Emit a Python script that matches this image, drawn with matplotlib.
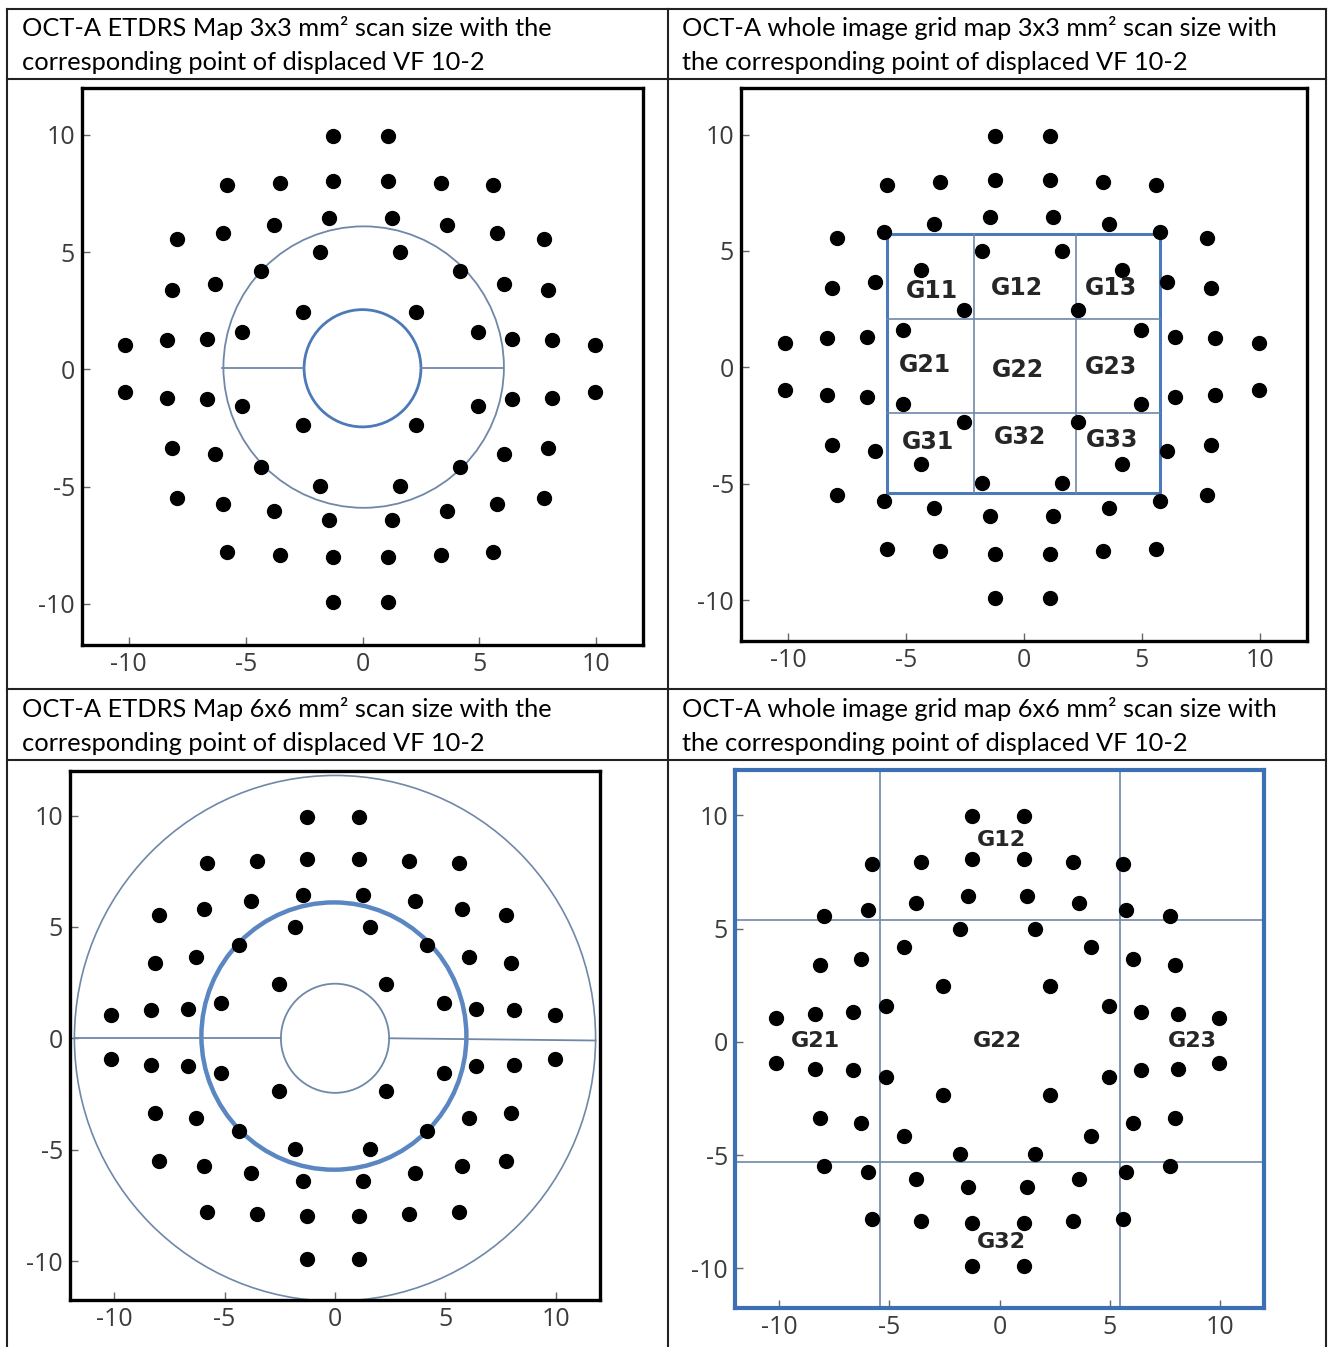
import matplotlib
matplotlib.use("Agg")
import matplotlib.pyplot as plt
from matplotlib.patches import Circle, Rectangle
from matplotlib.lines import Line2D

plt.rcParams["axes.unicode_minus"] = False

# displaced VF 10-2 test points (degrees)
vf_x = [-1.25, 1.1,
        -5.8, -3.55, -1.25, 1.1, 3.35, 5.6,
        -7.95, -5.95, -3.8, -1.45, 1.25, 3.6, 5.75, 7.75,
        -1.8, 1.6,
        -4.35, 4.15,
        -8.15, -6.3, 6.05, 7.95,
        -2.55, 2.3,
        -5.15, 4.95,
        -10.15, -8.35, -6.65, 6.4, 8.1, 9.95,
        -10.15, -8.35, -6.65, 6.4, 8.1, 9.95,
        -5.15, 4.95,
        -2.55, 2.3,
        -8.15, -6.3, 6.05, 7.95,
        -4.35, 4.15,
        -1.8, 1.6,
        -7.95, -5.95, -3.8, -1.45, 1.25, 3.6, 5.75, 7.75,
        -5.8, -3.55, -1.25, 1.1, 3.35, 5.6,
        -1.25, 1.1]
vf_y = [9.95, 9.95,
        7.85, 7.95, 8.05, 8.05, 7.95, 7.85,
        5.55, 5.8, 6.15, 6.45, 6.45, 6.15, 5.8, 5.55,
        5.0, 5.0,
        4.2, 4.2,
        3.4, 3.65, 3.65, 3.4,
        2.45, 2.45,
        1.6, 1.6,
        1.05, 1.25, 1.3, 1.3, 1.25, 1.05,
        -0.95, -1.2, -1.25, -1.25, -1.2, -0.95,
        -1.55, -1.55,
        -2.35, -2.35,
        -3.35, -3.6, -3.6, -3.35,
        -4.15, -4.15,
        -4.95, -4.95,
        -5.5, -5.75, -6.05, -6.4, -6.4, -6.05, -5.75, -5.5,
        -7.8, -7.9, -8.0, -8.0, -7.9, -7.8,
        -9.9, -9.9]

titles = [["OCT-A ETDRS Map 3x3 mm\u00b2 scan size with the",
           "corresponding point of displaced VF 10-2"],
          ["OCT-A whole image grid map 3x3 mm\u00b2 scan size with",
           "the corresponding point of displaced VF 10-2"],
          ["OCT-A ETDRS Map 6x6 mm\u00b2 scan size with the",
           "corresponding point of displaced VF 10-2"],
          ["OCT-A whole image grid map 6x6 mm\u00b2 scan size with",
           "the corresponding point of displaced VF 10-2"]]

ticks = [-10, -5, 0, 5, 10]

# ETDRS radii (deg)
etdrs3_r = [2.5, 6.0]
etdrs6_r = [2.45, 6.0, 11.8]

# 3x3 grid edges
grid3_x = [-5.8, -2.1, 2.2, 5.75]
grid3_y = [-5.4, -1.95, 2.1, 5.75]
grid3_names = ["G11", "G12", "G13", "G21", "G22", "G23", "G31", "G32", "G33"]
grid3_lx = [-3.9, -0.3, 3.7, -4.2, -0.25, 3.7, -4.05, -0.15, 3.75]
grid3_ly = [3.3, 3.4, 3.4, 0.1, -0.1, 0.0, -3.2, -3.0, -3.1]

# 6x6 grid lines
grid6_x = [-5.4, 5.45]
grid6_y = [-5.3, 5.4]
grid6_names = ["G12", "G21", "G22", "G23", "G32"]
grid6_lx = [0.1, -8.35, -0.1, 8.75, 0.1]
grid6_ly = [8.9, 0.05, 0.05, 0.05, -8.85]

W, H = 1333, 1347
BLUE = "#4a7ab8"
GREYBLUE = "#7088a8"

fig = plt.figure(figsize=(W / 100, H / 100), dpi=100)


def box(l, t, r, b):
    return [l / W, 1 - b / H, (r - l) / W, (b - t) / H]


def style(ax, spine_color="black", spine_w=2.4):
    ax.set_xlim(-12, 12)
    ax.set_ylim(-11.75, 12)
    ax.set_xticks(ticks)
    ax.set_yticks(ticks)
    ax.tick_params(direction="in", length=6, width=1, color="#666666",
                   labelsize=18, labelcolor="#3c3c3c", pad=5,
                   top=False, right=False)
    for lab in ax.get_xticklabels() + ax.get_yticklabels():
        lab.set_family("Open Sans")
    for s in ax.spines.values():
        s.set_color(spine_color)
        s.set_linewidth(spine_w)


def dots(ax):
    ax.plot(vf_x, vf_y, "o", color="black", markersize=10, zorder=5)


# panel 1: ETDRS 3x3
ax1 = fig.add_axes(box(82, 88, 643, 645))
style(ax1)
ax1.add_patch(Circle((0, 0.05), etdrs3_r[0], fill=False, ec=BLUE, lw=2.0))
ax1.add_patch(Circle((0.05, 0.1), etdrs3_r[1], fill=False, ec=GREYBLUE, lw=1.3))
ax1.plot([-etdrs3_r[1], -etdrs3_r[0]], [0.05, 0.05], color=GREYBLUE, lw=1.3)
ax1.plot([etdrs3_r[0], etdrs3_r[1]], [0.05, 0.05], color=GREYBLUE, lw=1.3)
dots(ax1)

# panel 2: grid 3x3
ax2 = fig.add_axes(box(741, 88, 1307, 641))
style(ax2)
for gx in grid3_x[1:-1]:
    ax2.plot([gx, gx], [grid3_y[0], grid3_y[-1]], color=GREYBLUE, lw=1.2)
for gy in grid3_y[1:-1]:
    ax2.plot([grid3_x[0], grid3_x[-1]], [gy, gy], color=GREYBLUE, lw=1.2)
ax2.add_patch(Rectangle((grid3_x[0], grid3_y[0]), grid3_x[-1] - grid3_x[0],
                        grid3_y[-1] - grid3_y[0], fill=False, ec=BLUE, lw=2.2))
dots(ax2)
for name, lx, ly in zip(grid3_names, grid3_lx, grid3_ly):
    ax2.text(lx, ly, name, ha="center", va="center", fontsize=17,
             fontweight="bold", color="#262626", zorder=6)

# panel 3: ETDRS 6x6
ax3 = fig.add_axes(box(70, 771, 600, 1300))
style(ax3)
ax3.add_patch(Circle((0, 0), etdrs6_r[0], fill=False, ec=GREYBLUE, lw=1.3))
ax3.add_patch(Circle((-0.05, 0.1), etdrs6_r[1], fill=False, ec="#5a86c2", lw=3.2))
ax3.add_patch(Circle((0, 0), etdrs6_r[2], fill=False, ec=GREYBLUE, lw=1.2))
ax3.plot([-etdrs6_r[2], -etdrs6_r[0]], [0, 0], color=GREYBLUE, lw=1.3)
ax3.plot([etdrs6_r[0], etdrs6_r[2]], [0, -0.1], color=GREYBLUE, lw=1.3)
dots(ax3)

# panel 4: grid 6x6
ax4 = fig.add_axes(box(735, 770, 1264, 1308))
style(ax4, spine_color="#3c70b4", spine_w=3.0)
for gx in grid6_x:
    ax4.axvline(gx, color=GREYBLUE, lw=1.2)
for gy in grid6_y:
    ax4.axhline(gy, color=GREYBLUE, lw=1.2)
dots(ax4)
for name, lx, ly in zip(grid6_names, grid6_lx, grid6_ly):
    ax4.text(lx, ly, name, ha="center", va="center", fontsize=16,
             fontweight="bold", color="#262626", zorder=6)


# table rules
def hline(y, x0=7, x1=1326):
    fig.add_artist(Line2D([x0 / W, x1 / W], [1 - y / H, 1 - y / H], color="#222222", lw=1.5))


def vline(x, y0=9, y1=1347):
    fig.add_artist(Line2D([x / W, x / W], [1 - y0 / H, 1 - y1 / H], color="#222222", lw=1.5))


for y in [9, 79, 689, 760]:
    hline(y)
for x in [7, 668, 1326]:
    vline(x)

title_pos = [(22, 28), (682, 28), (22, 709), (682, 709)]
for (tx, ty), lines in zip(title_pos, titles):
    for i, line in enumerate(lines):
        fig.text(tx / W, 1 - (ty + 34 * i) / H, line, ha="left", va="center",
                 fontsize=18.3, family="Lato", color="black")

fig.savefig("out.png", dpi=100)
